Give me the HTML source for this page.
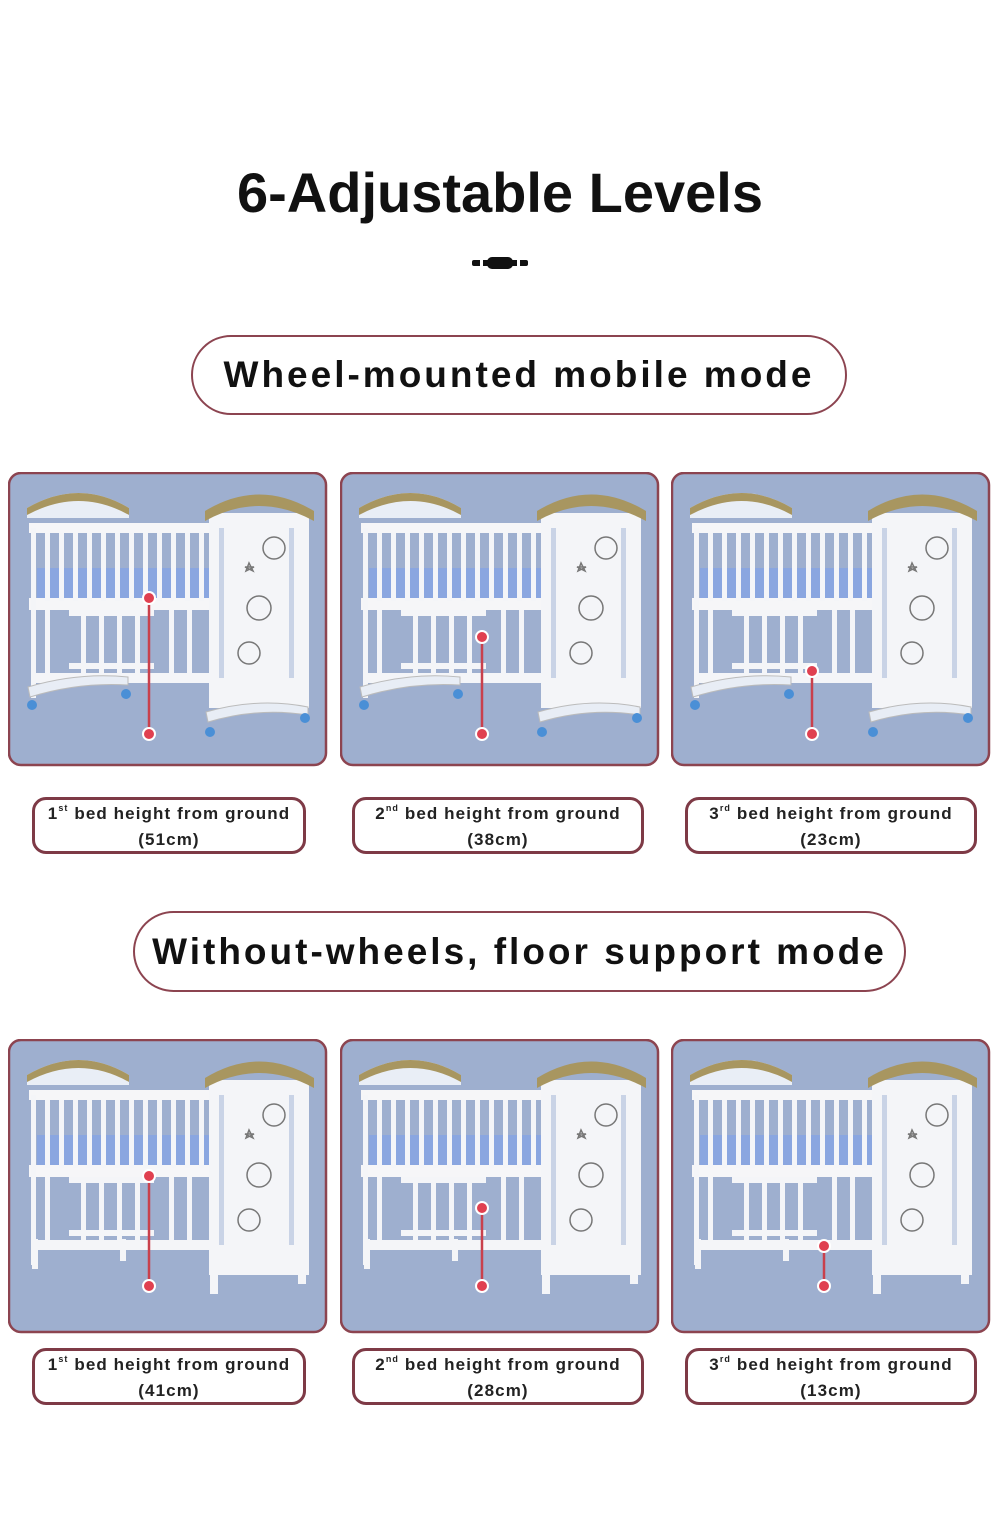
<!DOCTYPE html>
<html><head><style>
body{margin:0;background:#fff;width:1000px;height:1523px;position:relative;overflow:hidden;font-family:"Liberation Sans",sans-serif}
.t{position:absolute;left:0;width:1000px;text-align:center;top:160px;font-size:56px;font-weight:bold;color:#111;letter-spacing:0px}
.pill{position:absolute;border:2.5px solid #8c4450;border-radius:42px;box-sizing:border-box;display:flex;align-items:center;justify-content:center;font-weight:bold;font-size:37px;color:#111;letter-spacing:3px}
.lab{position:absolute;border:3px solid #7e3a46;border-radius:14px;box-sizing:border-box;text-align:center;font-weight:bold;font-size:17px;line-height:26px;color:#222;padding-top:1px;letter-spacing:1.1px}
sup{font-size:9px;vertical-align:top;line-height:14px}
svg.p{position:absolute}
</style></head><body>
<div class="t">6-Adjustable Levels</div>
<div style="position:absolute;left:472px;top:257px;width:56px;height:12px;">
<div style="position:absolute;left:0;top:3px;width:56px;height:6px;background:#111;border-radius:2px"></div>
<div style="position:absolute;left:8px;top:3px;width:3px;height:6px;background:#fff"></div>
<div style="position:absolute;left:45px;top:3px;width:3px;height:6px;background:#fff"></div>
<div style="position:absolute;left:15px;top:0;width:26px;height:12px;border-radius:5px;background:#111"></div></div>
<div class="pill" style="left:191px;top:335px;width:656px;height:80px">Wheel-mounted mobile mode</div>
<div class="pill" style="left:133px;top:911px;width:773px;height:81px">Without-wheels, floor support mode</div>

<svg width="0" height="0" style="position:absolute">
<defs>
<g id="crib">
<rect x="0" y="0" width="317" height="292" rx="12" fill="#9eafcf" stroke="#8c4450" stroke-width="2.5"/>
<path d="M18 35 Q70 5 120 35 L120 45 L18 45Z" fill="#e9eef6"/>
<path d="M18 35 Q70 5 120 35 L120 42 Q70 14 18 42Z" fill="#a89660"/>
<rect x="28" y="95" width="270" height="40" fill="#8aa6e0"/>
<rect x="20" y="50" width="185" height="10" fill="#f6f6f8"/>
<rect x="20" y="125" width="185" height="12" fill="#f6f6f8"/>
<g fill="#f4f5f8">
<rect x="22" y="55" width="5" height="170"/><rect x="36" y="60" width="5" height="68"/><rect x="50" y="60" width="5" height="68"/><rect x="64" y="60" width="5" height="68"/><rect x="78" y="60" width="5" height="68"/><rect x="92" y="60" width="5" height="68"/><rect x="106" y="60" width="5" height="68"/><rect x="120" y="60" width="5" height="68"/><rect x="134" y="60" width="5" height="68"/><rect x="148" y="60" width="5" height="68"/><rect x="162" y="60" width="5" height="68"/><rect x="176" y="60" width="5" height="68"/><rect x="190" y="60" width="5" height="68"/>
<rect x="36" y="137" width="5" height="70"/><rect x="72" y="137" width="5" height="70"/><rect x="90" y="137" width="5" height="70"/><rect x="108" y="137" width="5" height="70"/><rect x="126" y="137" width="5" height="70"/><rect x="160" y="137" width="5" height="70"/><rect x="178" y="137" width="5" height="70"/>
<rect x="22" y="200" width="185" height="10"/>
<rect x="60" y="137" width="85" height="6"/><rect x="60" y="190" width="85" height="6"/>
</g>
<rect x="200" y="40" width="100" height="195" fill="#f4f5f8"/>
<path d="M196 38 Q250 5 305 38 L305 48 Q250 18 196 48Z" fill="#a89660"/>
<rect x="210" y="55" width="5" height="150" fill="#c9d3e6"/>
<rect x="280" y="55" width="5" height="150" fill="#c9d3e6"/>
<g fill="none" stroke="#777" stroke-width="1.5">
<circle cx="265" cy="75" r="11"/><circle cx="250" cy="135" r="12"/><circle cx="240" cy="180" r="11"/>
<path d="M240 90 l4 8 l-8 -4 h9 l-8 4Z"/>
</g>
</g>
</defs></svg>

<svg class="p" style="left:8px;top:472px" width="320" height="295"><use href="#crib" x="1" y="1"/>
<g fill="#e8edf5" stroke="#bbb"><path d="M20 215 Q70 200 120 205 L120 213 Q70 210 22 225Z"/><path d="M198 240 Q250 225 300 235 L300 243 Q250 235 200 250Z"/></g>
<g fill="#4a8fd6"><circle cx="24" cy="233" r="5"/><circle cx="118" cy="222" r="5"/><circle cx="202" cy="260" r="5"/><circle cx="297" cy="246" r="5"/></g>
<line x1="141" y1="126" x2="141" y2="262" stroke="#c9404c" stroke-width="2.5"/><circle cx="141" cy="126" r="6" fill="#e04050" stroke="#fff" stroke-width="2"/><circle cx="141" cy="262" r="6" fill="#e04050" stroke="#fff" stroke-width="2"/></svg>
<svg class="p" style="left:340px;top:472px" width="320" height="295"><use href="#crib" x="1" y="1"/>
<g fill="#e8edf5" stroke="#bbb"><path d="M20 215 Q70 200 120 205 L120 213 Q70 210 22 225Z"/><path d="M198 240 Q250 225 300 235 L300 243 Q250 235 200 250Z"/></g>
<g fill="#4a8fd6"><circle cx="24" cy="233" r="5"/><circle cx="118" cy="222" r="5"/><circle cx="202" cy="260" r="5"/><circle cx="297" cy="246" r="5"/></g>
<line x1="142" y1="165" x2="142" y2="262" stroke="#c9404c" stroke-width="2.5"/><circle cx="142" cy="165" r="6" fill="#e04050" stroke="#fff" stroke-width="2"/><circle cx="142" cy="262" r="6" fill="#e04050" stroke="#fff" stroke-width="2"/></svg>
<svg class="p" style="left:671px;top:472px" width="320" height="295"><use href="#crib" x="1" y="1"/>
<g fill="#e8edf5" stroke="#bbb"><path d="M20 215 Q70 200 120 205 L120 213 Q70 210 22 225Z"/><path d="M198 240 Q250 225 300 235 L300 243 Q250 235 200 250Z"/></g>
<g fill="#4a8fd6"><circle cx="24" cy="233" r="5"/><circle cx="118" cy="222" r="5"/><circle cx="202" cy="260" r="5"/><circle cx="297" cy="246" r="5"/></g>
<line x1="141" y1="199" x2="141" y2="262" stroke="#c9404c" stroke-width="2.5"/><circle cx="141" cy="199" r="6" fill="#e04050" stroke="#fff" stroke-width="2"/><circle cx="141" cy="262" r="6" fill="#e04050" stroke="#fff" stroke-width="2"/></svg>

<div class="lab" style="left:32px;top:797px;width:274px;height:57px">1<sup>st</sup> bed height from ground<br>(51cm)</div>
<div class="lab" style="left:352px;top:797px;width:292px;height:57px">2<sup>nd</sup> bed height from ground<br>(38cm)</div>
<div class="lab" style="left:685px;top:797px;width:292px;height:57px">3<sup>rd</sup> bed height from ground<br>(23cm)</div>

<svg class="p" style="left:8px;top:1039px" width="320" height="295"><use href="#crib" x="1" y="1"/>
<g fill="#f4f5f8"><rect x="24" y="200" width="6" height="30"/><rect x="112" y="200" width="6" height="22"/><rect x="202" y="225" width="8" height="30"/><rect x="290" y="215" width="8" height="30"/></g>
<line x1="141" y1="137" x2="141" y2="247" stroke="#c9404c" stroke-width="2.5"/><circle cx="141" cy="137" r="6" fill="#e04050" stroke="#fff" stroke-width="2"/><circle cx="141" cy="247" r="6" fill="#e04050" stroke="#fff" stroke-width="2"/></svg>
<svg class="p" style="left:340px;top:1039px" width="320" height="295"><use href="#crib" x="1" y="1"/>
<g fill="#f4f5f8"><rect x="24" y="200" width="6" height="30"/><rect x="112" y="200" width="6" height="22"/><rect x="202" y="225" width="8" height="30"/><rect x="290" y="215" width="8" height="30"/></g>
<line x1="142" y1="169" x2="142" y2="247" stroke="#c9404c" stroke-width="2.5"/><circle cx="142" cy="169" r="6" fill="#e04050" stroke="#fff" stroke-width="2"/><circle cx="142" cy="247" r="6" fill="#e04050" stroke="#fff" stroke-width="2"/></svg>
<svg class="p" style="left:671px;top:1039px" width="320" height="295"><use href="#crib" x="1" y="1"/>
<g fill="#f4f5f8"><rect x="24" y="200" width="6" height="30"/><rect x="112" y="200" width="6" height="22"/><rect x="202" y="225" width="8" height="30"/><rect x="290" y="215" width="8" height="30"/></g>
<line x1="153" y1="207" x2="153" y2="247" stroke="#c9404c" stroke-width="2.5"/><circle cx="153" cy="207" r="6" fill="#e04050" stroke="#fff" stroke-width="2"/><circle cx="153" cy="247" r="6" fill="#e04050" stroke="#fff" stroke-width="2"/></svg>

<div class="lab" style="left:32px;top:1348px;width:274px;height:57px">1<sup>st</sup> bed height from ground<br>(41cm)</div>
<div class="lab" style="left:352px;top:1348px;width:292px;height:57px">2<sup>nd</sup> bed height from ground<br>(28cm)</div>
<div class="lab" style="left:685px;top:1348px;width:292px;height:57px">3<sup>rd</sup> bed height from ground<br>(13cm)</div>
</body></html>
